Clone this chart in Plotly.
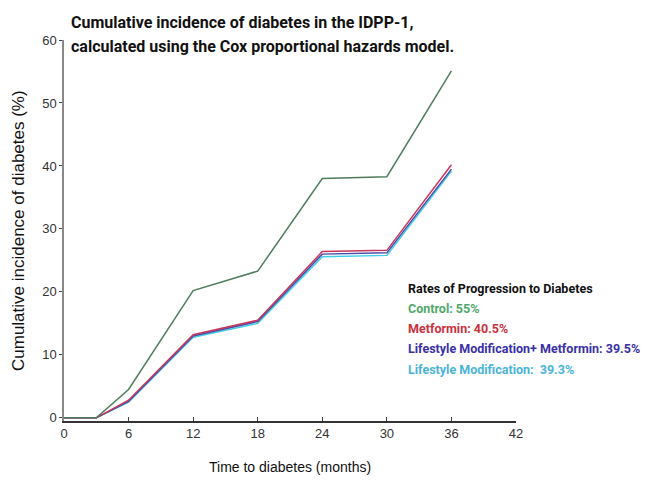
import plotly.graph_objects as go

months = [0, 3, 6, 12, 18, 24, 30, 36]
control = [0, 0, 4.5, 20.2, 23.3, 38.0, 38.3, 55.1]
metformin = [0, 0, 2.8, 13.2, 15.5, 26.4, 26.6, 40.2]
lifestyle_met = [0, 0, 2.6, 13.0, 15.3, 26.0, 26.2, 39.5]
lifestyle = [0, 0, 2.5, 12.8, 15.0, 25.6, 25.8, 39.2]

x_ticks = [0, 6, 12, 18, 24, 30, 36, 42]
y_ticks = [0, 10, 20, 30, 40, 50, 60]

title_lines = ["Cumulative incidence of diabetes in the IDPP-1,",
               "calculated using the Cox proportional hazards model."]
legend_title = "Rates of Progression to Diabetes"
legend_lines = ["Control: 55%", "Metformin: 40.5%",
                "Lifestyle Modification+ Metformin: 39.5%",
                "Lifestyle Modification:  39.3%"]
legend_colors = ["#4fa86a", "#c8323e", "#3a30a8", "#4ab4d8"]

sans = "Liberation Sans, Arial, sans-serif"
bold_font = "Roboto, sans-serif"

fig = go.Figure()
series = [
    ("Lifestyle Modification", lifestyle, "#3fd0e6"),
    ("Lifestyle Modification+ Metformin", lifestyle_met, "#4a4aa8"),
    ("Metformin", metformin, "#c8385a"),
    ("Control", control, "#4f7d5c"),
]
for name, ys, col in series:
    fig.add_trace(go.Scatter(x=months, y=ys, mode="lines", name=name,
                             line=dict(color=col, width=1.5)))

annotations = []
for t, yy in zip(title_lines, [1.047, 0.982]):
    annotations.append(dict(x=0.012, y=yy, xref="paper", yref="paper", xanchor="left",
                            yanchor="middle", text="<b>" + t + "</b>", showarrow=False,
                            font=dict(family=bold_font, size=16, color="#111")))
annotations += [
    dict(x=-0.102, y=0.501, xref="paper", yref="paper", textangle=-90,
         text="Cumulative incidence of diabetes (%)", showarrow=False,
         xanchor="center", yanchor="middle",
         font=dict(family=sans, size=17, color="#111")),
    dict(x=0.5, y=-0.121, xref="paper", yref="paper",
         text="Time to diabetes (months)", showarrow=False, xanchor="center", yanchor="middle",
         font=dict(family=sans, size=14, color="#111")),
    dict(x=0.757, y=0.349, xref="paper", yref="paper", xanchor="left", yanchor="middle",
         text="<b>" + legend_title + "</b>", showarrow=False,
         font=dict(family=bold_font, size=12.5, color="#111")),
]
for t, c, yy in zip(legend_lines, legend_colors, [0.294, 0.2415, 0.189, 0.136]):
    annotations.append(dict(x=0.757, y=yy, xref="paper", yref="paper",
                            xanchor="left", yanchor="middle", text="<b>" + t + "</b>",
                            showarrow=False, font=dict(family=bold_font, size=12.5, color=c)))

fig.update_layout(
    width=645, height=480,
    margin=dict(l=64, r=129, t=40, b=59),
    paper_bgcolor="white", plot_bgcolor="white",
    showlegend=False,
    annotations=annotations,
    xaxis=dict(range=[0, 42], tickvals=x_ticks, ticks="inside", ticklen=4,
               showline=True, linecolor="#333", linewidth=1.5, showgrid=False,
               zeroline=False, tickfont=dict(family=sans, size=13, color="#333")),
    yaxis=dict(range=[-0.5, 60], tickvals=y_ticks, ticks="outside", ticklen=3,
               showline=True, linecolor="#888", linewidth=1.5, showgrid=False,
               zeroline=False, tickfont=dict(family=sans, size=13, color="#333")),
)

fig.write_html("out.html", config={"displayModeBar": False},
               post_script="document.body.style.margin='0';document.body.style.overflow='hidden';")
